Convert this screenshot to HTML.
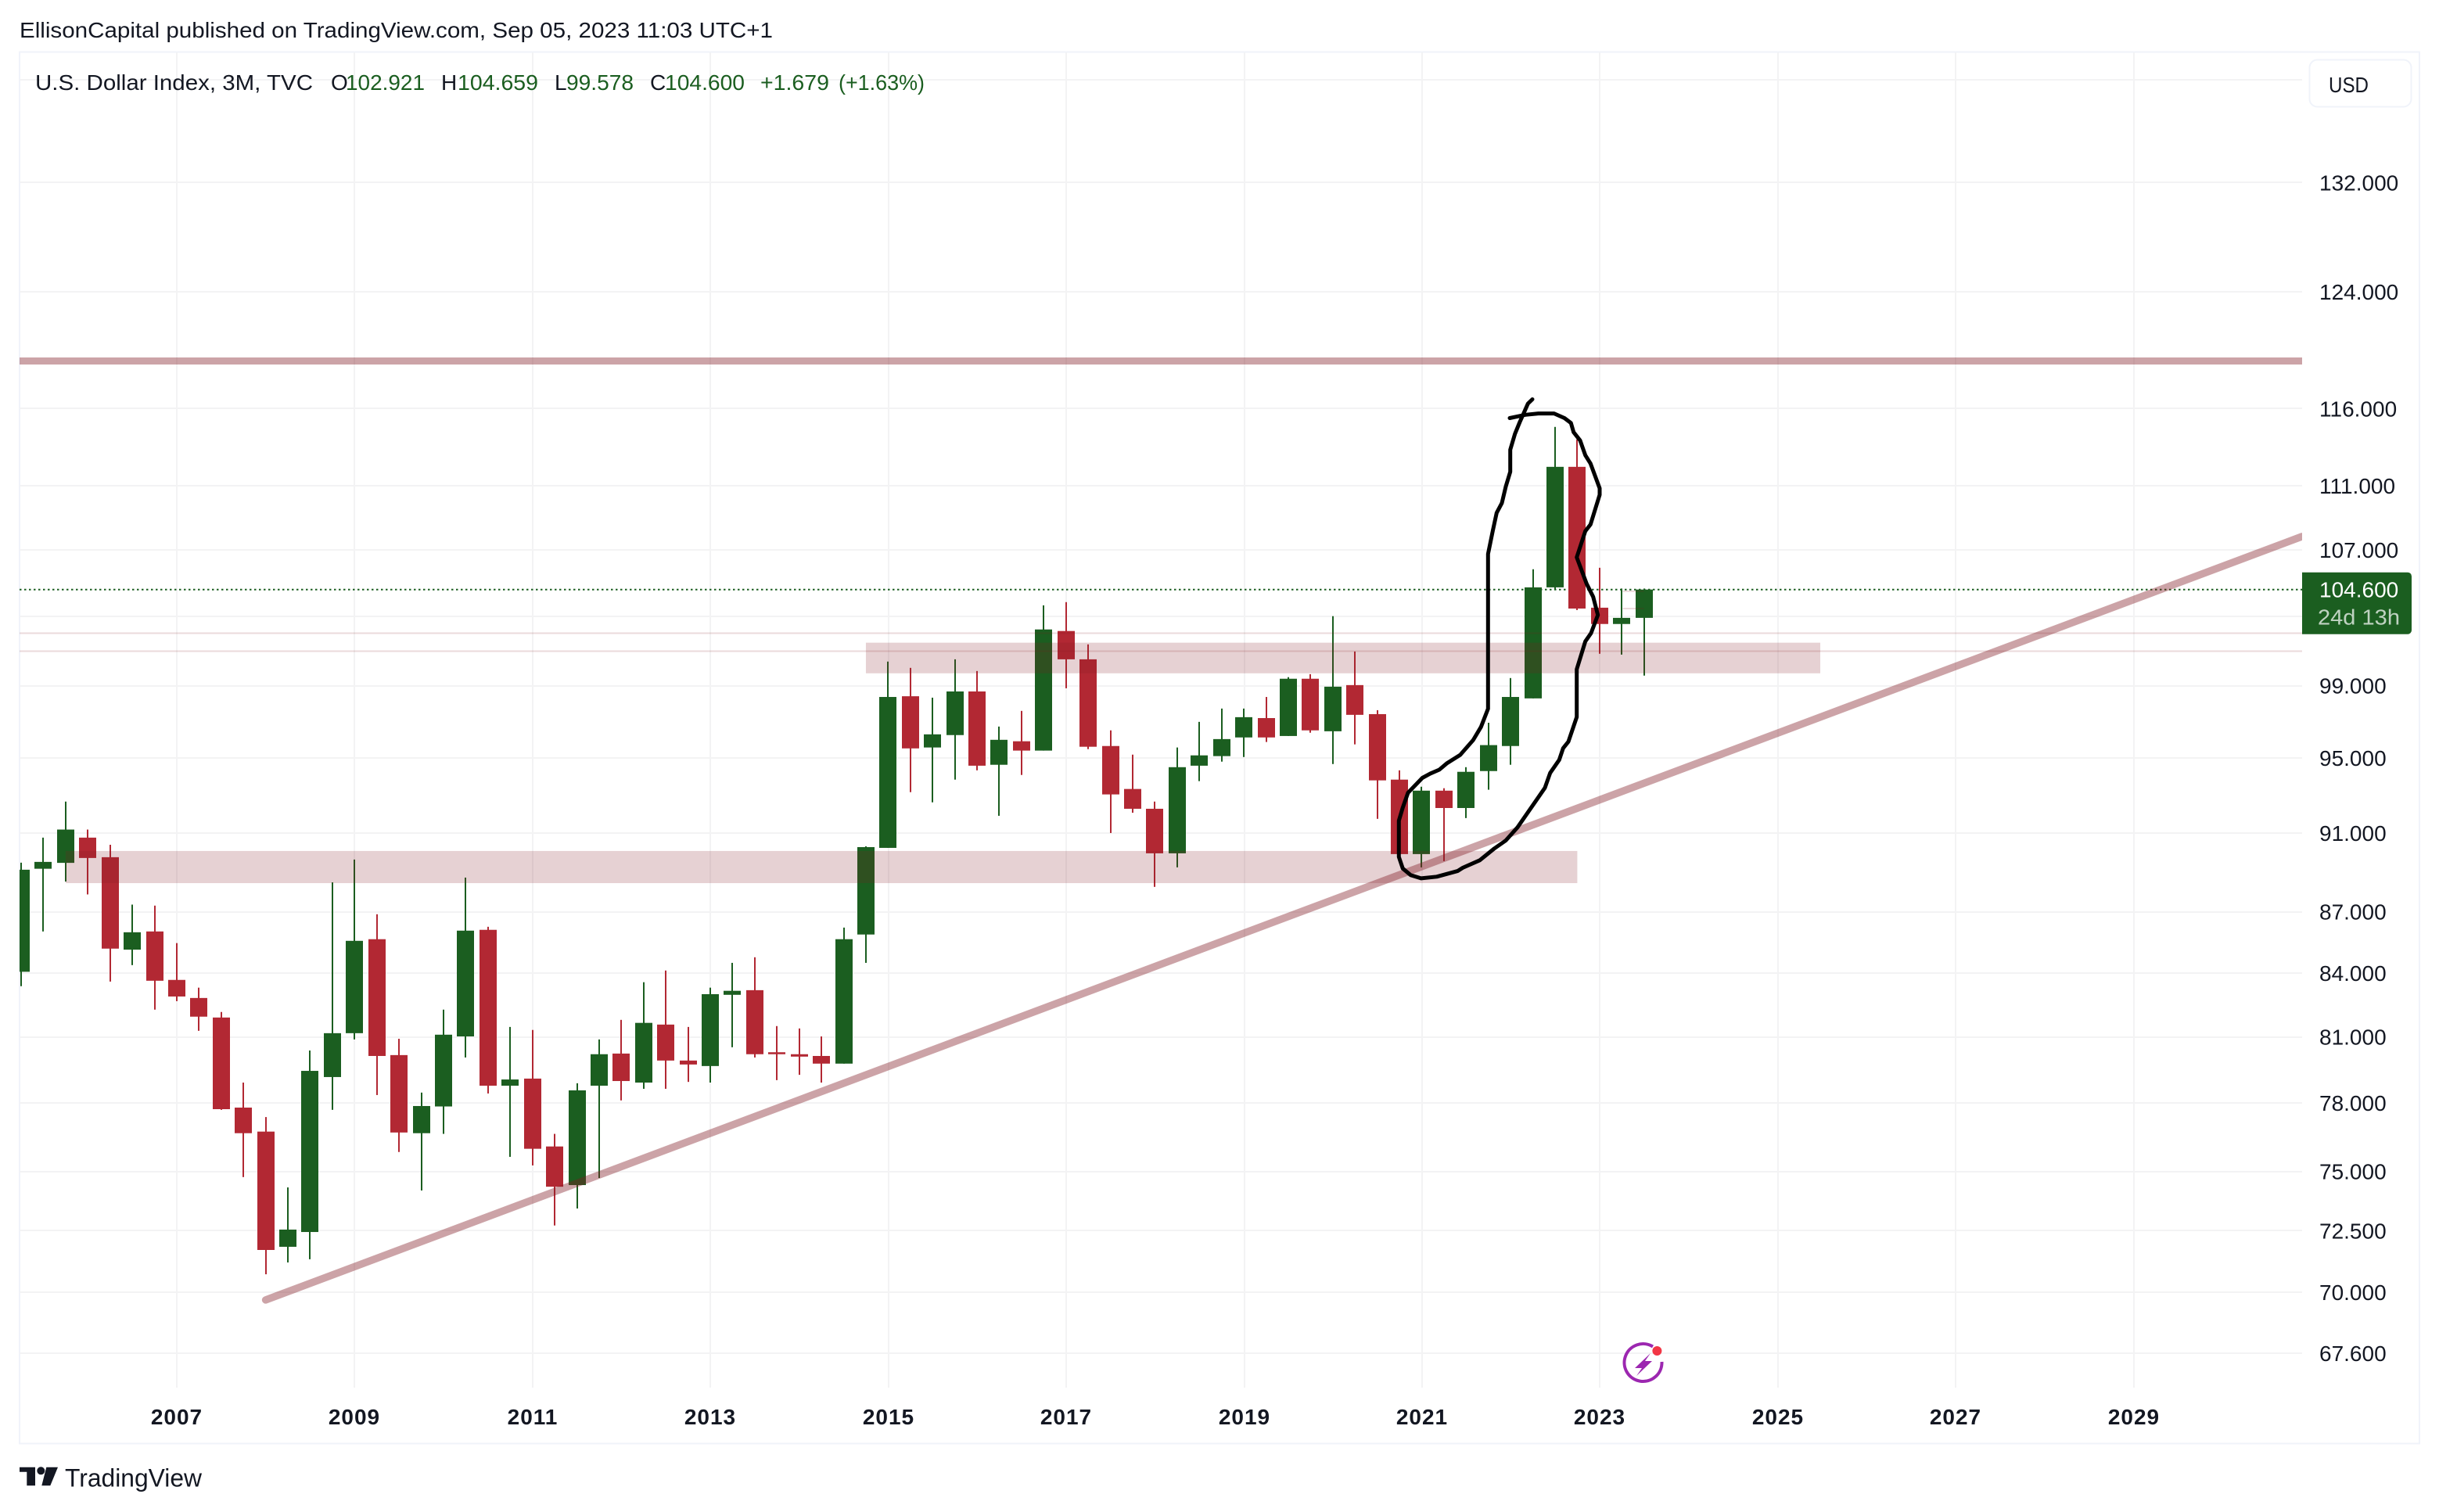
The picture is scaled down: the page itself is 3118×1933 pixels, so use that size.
<!DOCTYPE html>
<html lang="en">
<head>
<meta charset="utf-8">
<title>U.S. Dollar Index, 3M, TVC</title>
<style>
html,body{margin:0;padding:0;background:#fff;width:3118px;height:1933px;overflow:hidden}
svg{display:block}
text{font-family:"Liberation Sans",sans-serif;fill:#131722}
.leg{font-size:28px}
.g{fill:#1b5e20}
</style>
</head>
<body>
<svg id="chart" xmlns="http://www.w3.org/2000/svg" width="3118" height="1933" viewBox="0 0 3118 1933">
  <defs><clipPath id="pane"><rect x="25" y="67" width="2918" height="1707"/></clipPath></defs>
  <rect x="0" y="0" width="3118" height="1933" fill="#ffffff"/>
  <text x="25" y="48" font-size="28" textLength="963" lengthAdjust="spacingAndGlyphs">EllisonCapital published on TradingView.com, Sep 05, 2023 11:03 UTC+1</text>
  <rect x="25" y="66.5" width="3068" height="1779" fill="none" stroke="#f0f3fa" stroke-width="2"/>
  <g id="grid"></g>
  <g id="candles" clip-path="url(#pane)"></g>
  <g id="drawings" clip-path="url(#pane)"></g>
  <path clip-path="url(#pane)" fill="none" stroke="#000" stroke-width="5" stroke-linejoin="round" stroke-linecap="round" d="M1959 510.5L1953.3 516L1948.3 527.4L1942.7 540L1936.7 554.7L1930.7 574.9L1930.7 603.1L1925 622L1920 643.1L1913.3 655.7L1908.3 678.9L1902.3 708.3L1902.3 906.1L1893.3 929.3L1883.3 946.1L1866.7 965.1L1850 975.6L1840 984L1828.3 989.1L1818.3 994.5L1800 1013.5L1793.3 1032.4L1788.3 1049.2L1788.3 1095.5L1793.3 1110.3L1803.3 1118.7L1816.7 1122.9L1836.7 1120.8L1863.3 1113.6L1870 1109.4L1891.7 1099.8L1910 1085L1925 1074.5L1940 1057.7L1975 1007.2L1981.7 988.2L1993.3 971.4L1998.3 956.6L2005 948.2L2015.7 916.7L2015.7 855.6L2026.7 819.9L2034 809.4L2042.7 786.2L2036.7 763L2028.3 746.2L2015.7 712.5L2026.7 678.9L2033.3 670.5L2045 632.6L2045 624.2L2033.3 592.6L2026.7 582.1L2020 563.1L2011.7 552.6L2008.3 540.8L2000 534.5L1986.7 528.6L1966.7 528.6L1950 530.3L1930 534.5"/>
  <g id="legend">
    <text class="leg" x="45" y="115" textLength="355" lengthAdjust="spacingAndGlyphs">U.S. Dollar Index, 3M, TVC</text>
    <text class="leg" x="423" y="115">O</text>
    <text class="leg g" x="442" y="115" textLength="101" lengthAdjust="spacingAndGlyphs">102.921</text>
    <text class="leg" x="564" y="115">H</text>
    <text class="leg g" x="585" y="115" textLength="103" lengthAdjust="spacingAndGlyphs">104.659</text>
    <text class="leg" x="709" y="115">L</text>
    <text class="leg g" x="724" y="115" textLength="86" lengthAdjust="spacingAndGlyphs">99.578</text>
    <text class="leg" x="831" y="115">C</text>
    <text class="leg g" x="850" y="115" textLength="102" lengthAdjust="spacingAndGlyphs">104.600</text>
    <text class="leg g" x="972" y="115" textLength="88" lengthAdjust="spacingAndGlyphs">+1.679</text>
    <text class="leg g" x="1072" y="115" textLength="110" lengthAdjust="spacingAndGlyphs">(+1.63%)</text>
  </g>
  <g>
    <rect x="2952.5" y="76.5" width="130" height="60" rx="10" fill="#fff" stroke="#f0f3fa" stroke-width="2"/>
    <text x="2977" y="118" font-size="28" textLength="51" lengthAdjust="spacingAndGlyphs">USD</text>
  </g>
  <g id="yLabels"></g>
  <g id="xLabels"></g>
  <g id="lastPrice"></g>
  <g>
    <path d="M2113 1721.5A24 24 0 1 0 2124.5 1741" fill="none" stroke="#9c27b0" stroke-width="4"/>
    <circle cx="2118.4" cy="1727" r="6" fill="#f23645"/>
    <polygon points="2110,1730 2090,1749 2099,1749 2092,1759 2112,1740 2103,1740" fill="#9c27b0"/>
  </g>
  <g>
    <path fill="#131722" d="M25 1875.7H45V1899.3H34.3V1881.7H25Z M59.3 1875.7H74L64.3 1899.3H53.3Z"/>
    <circle cx="52.3" cy="1880.3" r="5" fill="#131722"/>
    <text x="83" y="1900.5" font-size="32" textLength="175" lengthAdjust="spacingAndGlyphs">TradingView</text>
  </g>
</svg>
<script>
// ---- chart data (USD index, quarterly) ----
const quarters = ["2005 Q2","2005 Q3","2005 Q4","2006 Q1","2006 Q2","2006 Q3","2006 Q4","2007 Q1","2007 Q2","2007 Q3","2007 Q4","2008 Q1","2008 Q2","2008 Q3","2008 Q4","2009 Q1","2009 Q2","2009 Q3","2009 Q4","2010 Q1","2010 Q2","2010 Q3","2010 Q4","2011 Q1","2011 Q2","2011 Q3","2011 Q4","2012 Q1","2012 Q2","2012 Q3","2012 Q4","2013 Q1","2013 Q2","2013 Q3","2013 Q4","2014 Q1","2014 Q2","2014 Q3","2014 Q4","2015 Q1","2015 Q2","2015 Q3","2015 Q4","2016 Q1","2016 Q2","2016 Q3","2016 Q4","2017 Q1","2017 Q2","2017 Q3","2017 Q4","2018 Q1","2018 Q2","2018 Q3","2018 Q4","2019 Q1","2019 Q2","2019 Q3","2019 Q4","2020 Q1","2020 Q2","2020 Q3","2020 Q4","2021 Q1","2021 Q2","2021 Q3","2021 Q4","2022 Q1","2022 Q2","2022 Q3","2022 Q4","2023 Q1","2023 Q2","2023 Q3"];
const opens = [84.07,89.17,89.47,90.77,89.76,85.14,86.03,83.68,82.82,81.90,77.79,76.73,71.84,72.45,79.16,81.17,85.65,80.16,76.66,77.84,81.02,86.11,78.77,79.09,76.08,74.42,78.77,80.23,78.91,81.57,79.91,79.66,82.97,83.19,80.29,80.20,80.12,79.77,85.88,90.24,98.41,95.57,96.25,98.68,94.63,95.91,95.40,102.15,100.51,95.65,93.33,92.28,89.96,94.58,95.10,96.12,97.19,96.20,99.40,96.46,99.04,97.41,93.83,89.92,93.24,92.32,94.29,95.65,98.29,104.73,112.20,103.52,102.56,102.921];
const highs = [89.48,90.77,92.66,91.19,90.40,87.36,87.31,85.46,83.31,82.16,78.91,77.37,74.32,80.37,88.48,89.64,86.88,80.91,78.46,82.27,88.72,86.26,81.46,81.32,76.63,78.88,80.88,81.79,83.57,84.13,81.46,83.31,84.50,84.77,81.50,81.39,81.02,86.22,90.32,100.38,100.02,98.33,100.51,99.84,96.72,97.59,103.66,103.85,101.37,96.51,95.18,92.66,95.57,96.98,97.72,97.72,98.37,99.49,99.66,103.02,100.96,97.63,94.33,93.45,93.37,94.50,96.93,99.44,105.82,114.79,113.97,105.91,104.66,104.659];
const lows = [83.38,86.03,88.52,87.87,83.60,84.39,82.27,82.67,81.28,77.69,74.76,70.72,71.20,71.33,77.69,80.88,78.35,75.84,74.19,76.63,80.05,78.42,75.63,75.26,72.72,73.43,74.72,78.11,78.63,78.63,78.94,78.91,80.52,80.05,79.02,79.26,78.91,79.77,84.50,90.24,93.16,92.62,93.83,94.33,91.91,94.08,95.40,98.86,95.48,91.01,92.07,88.25,89.24,93.75,94.80,95.05,95.87,96.20,96.38,94.67,95.74,91.75,89.92,89.24,89.56,91.79,93.29,94.63,98.29,104.59,103.38,100.83,100.78,99.578];
const closes = [89.12,89.52,91.19,89.72,85.19,85.99,83.64,82.89,81.94,77.72,76.66,71.71,72.55,79.44,81.17,85.57,80.12,76.69,77.86,81.10,86.07,78.77,79.05,75.98,74.35,78.56,80.20,78.98,81.65,79.91,79.73,83.00,83.16,80.20,80.20,80.09,79.77,85.65,90.28,98.37,95.52,96.29,98.68,94.58,95.99,95.40,102.24,100.51,95.61,93.04,92.28,89.96,94.50,95.14,96.03,97.24,96.12,99.40,96.51,98.95,97.37,93.79,89.92,93.24,92.32,94.25,95.70,98.37,104.73,112.20,103.47,102.56,102.92,104.600];
const priceTicks = [132,124,116,111,107,99,95,91,87,84,81,78,75,72.5,70,67.6];
const priceTickLabels = ["132.000","124.000","116.000","111.000","107.000","99.000","95.000","91.000","87.000","84.000","81.000","78.000","75.000","72.500","70.000","67.600"];
const hiddenGridPrices = [140,103];
const yearTicks = [2007,2009,2011,2013,2015,2017,2019,2021,2023,2025,2027,2029];
const lastPrice = 104.600;
const lastPriceLabel = "104.600";
const countdownLabel = "24d 13h";
const resistancePrice = 119.2;
const zoneUpper = [101.47, 99.71];
const zoneLower = [90.08, 88.44];
const zoneUpperBars = [38, 80.93];
const zoneLowerBars = [2, 70];
const trendBars = [11, 102.6];
const trendPrices = [69.69, 107.82];
const thinLinePrices = [102.02, 100.98];
const shortLinePrices = [104.5, 103.47];
const shortLineBars = [72.05, 73];

// ---- axis functions ----
const NS = 'http://www.w3.org/2000/svg';
function yScale(p){ return 1730 - 2236.5 * Math.log(p / 67.6); }
function xBar(i){ return 27 + 28.42 * i; }
function xYear(y){ return 226 + 113.71 * (y - 2007); }
function mk(parent, tag, attrs){
  const el = document.createElementNS(NS, tag);
  for (const k in attrs) el.setAttribute(k, attrs[k]);
  parent.appendChild(el);
  return el;
}
const gridG = document.getElementById('grid');
const candleG = document.getElementById('candles');
const drawG = document.getElementById('drawings');
const yG = document.getElementById('yLabels');
const xG = document.getElementById('xLabels');
const lastG = document.getElementById('lastPrice');

// grid + axis labels
priceTicks.concat(hiddenGridPrices).forEach(function(p){
  const y = Math.round(yScale(p));
  const l = mk(gridG, 'rect', {x:25, y:y-1, width:2918, height:2, fill:'#f3f3f4'});
  
  
});
yearTicks.forEach(function(yr){
  const x = Math.round(xYear(yr));
  const l = mk(gridG, 'rect', {x:x-1, y:67, width:2, height:1707, fill:'#f3f3f4'});
  
  
  const t = mk(xG, 'text', {x:x, y:1821, 'font-size':28, 'font-weight':'bold', 'text-anchor':'middle', 'letter-spacing':'1'});
  
  
  t.textContent = String(yr);
});
priceTicks.forEach(function(p, k){
  const t = mk(yG, 'text', {x:2965, y:yScale(p)+10, 'font-size':28});
  
  
  t.textContent = priceTickLabels[k];
});

// last price dotted line
const dot = mk(gridG, 'line', {x1:25, x2:2943, y1:yScale(lastPrice), y2:yScale(lastPrice), stroke:'#1b5e20', 'stroke-width':2, 'stroke-dasharray':'2.5 3.5'});



// candles
quarters.forEach(function(q, i){
  const up = closes[i] >= opens[i];
  const color = up ? '#1b5e20' : '#b22833';
  const x = Math.round(xBar(i));
  const yH = yScale(highs[i]), yL = yScale(lows[i]);
  const yT = yScale(Math.max(opens[i], closes[i])), yB = yScale(Math.min(opens[i], closes[i]));
  const wick = mk(candleG, 'rect', {x:x-1, y:yH, width:2, height:yL-yH, fill:color});
  
  
  const body = mk(candleG, 'rect', {x:x-11, y:yT, width:22, height:Math.max(yB-yT,2), fill:color});
  
  
});

// drawings
const PINK = '#801922';
thinLinePrices.forEach(function(p){
  const l = mk(drawG, 'line', {x1:25, x2:2943, y1:yScale(p), y2:yScale(p), stroke:PINK, 'stroke-opacity':0.16, 'stroke-width':2});
  
  
});
shortLinePrices.forEach(function(p){
  const l = mk(drawG, 'line', {x1:xBar(shortLineBars[0]), x2:xBar(shortLineBars[1]), y1:yScale(p), y2:yScale(p), stroke:PINK, 'stroke-opacity':0.16, 'stroke-width':2});
  
  
});
const z1 = mk(drawG, 'rect', {x:xBar(zoneUpperBars[0]), y:yScale(zoneUpper[0]), width:xBar(zoneUpperBars[1])-xBar(zoneUpperBars[0]), height:yScale(zoneUpper[1])-yScale(zoneUpper[0]), fill:PINK, 'fill-opacity':0.2});


const z2 = mk(drawG, 'rect', {x:xBar(zoneLowerBars[0]), y:yScale(zoneLower[0]), width:xBar(zoneLowerBars[1])-xBar(zoneLowerBars[0]), height:yScale(zoneLower[1])-yScale(zoneLower[0]), fill:PINK, 'fill-opacity':0.2});


const res = mk(drawG, 'line', {x1:25, x2:2943, y1:yScale(resistancePrice), y2:yScale(resistancePrice), stroke:PINK, 'stroke-opacity':0.4, 'stroke-width':9});


const tr = mk(drawG, 'line', {x1:xBar(trendBars[0]), y1:yScale(trendPrices[0]), x2:xBar(trendBars[1]), y2:yScale(trendPrices[1]), stroke:PINK, 'stroke-opacity':0.4, 'stroke-width':9.5, 'stroke-linecap':'round'});



// last price label
const ly = yScale(lastPrice);
const tag = mk(lastG, 'path', {d:'M2943 '+(ly-22)+'H3078a5 5 0 0 1 5 5V'+(ly+52)+'a5 5 0 0 1 -5 5H2943Z', fill:'#1b5e20'});


const lt = mk(lastG, 'text', {x:2965, y:ly+10, 'font-size':28, style:'fill:#fff'});


lt.textContent = lastPriceLabel;
const ct = mk(lastG, 'text', {x:2963, y:ly+45, 'font-size':28, style:'fill:#fff;fill-opacity:.72', textLength:105, lengthAdjust:'spacingAndGlyphs'});


ct.textContent = countdownLabel;
</script>
</body>
</html>
